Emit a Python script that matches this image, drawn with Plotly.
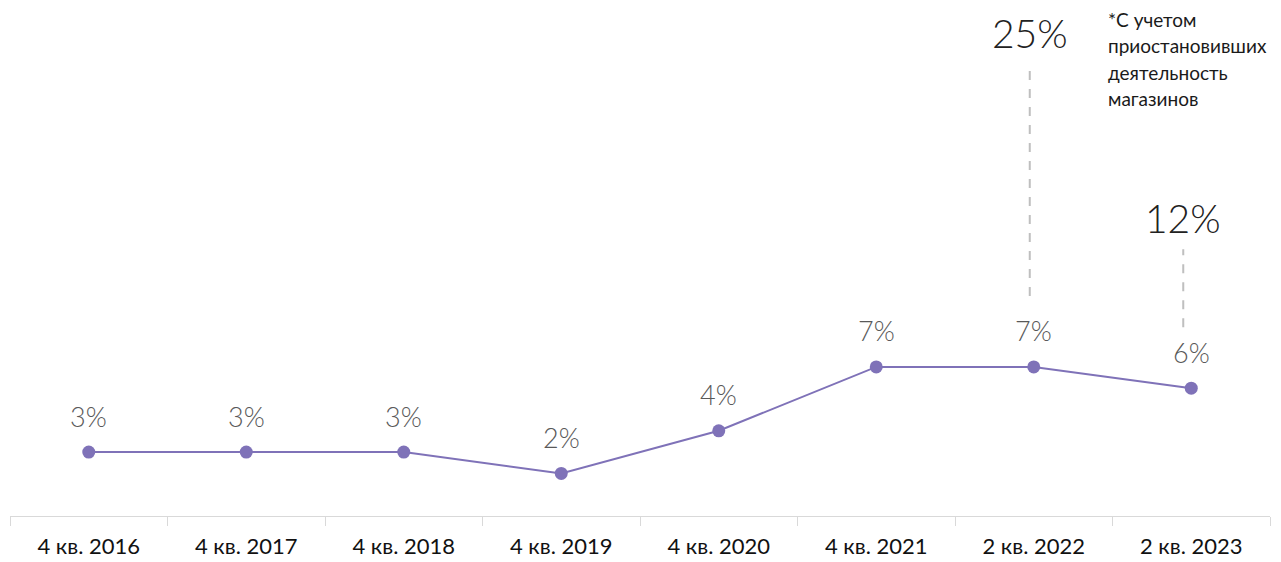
import plotly.graph_objects as go

categories = ["4 кв. 2016", "4 кв. 2017", "4 кв. 2018", "4 кв. 2019",
              "4 кв. 2020", "4 кв. 2021", "2 кв. 2022", "2 кв. 2023"]
values = [3, 3, 3, 2, 4, 7, 7, 6]
labels = ["3%", "3%", "3%", "2%", "4%", "7%", "7%", "6%"]

# values including stores that suspended operations
extra_categories = ["2 кв. 2022", "2 кв. 2023"]
extra_values = [25, 12]
extra_labels = ["25%", "12%"]

note_lines = ["*С учетом", "приостановивших", "деятельность", "магазинов"]

LINE_COLOR = "#7f72b8"
FONT = "Lato"
OFF = 8  # page body margin
W, H = 1281 - OFF, 562 - OFF
ML, MR, MT, MB = 10 - OFF, 11, 0, 46
PLOT_H = H - MT - MB
UNIT = 21.3  # px per unit
YMAX = PLOT_H / UNIT
CAT_W = (W - ML - MR) / len(categories)

fig = go.Figure()
fig.add_trace(go.Scatter(
    x=categories, y=values, mode="lines+markers",
    line=dict(color=LINE_COLOR, width=2),
    marker=dict(color=LINE_COLOR, size=13),
    hoverinfo="skip", showlegend=False,
))

annotations = []
for c, v, t in zip(categories, values, labels):
    annotations.append(dict(
        x=c, y=v, xref="x", yref="y", text=t, showarrow=False,
        yshift=36, font=dict(family=FONT, size=27, color="#595959", weight=300),
    ))

shapes = []
idx = {c: i for i, c in enumerate(categories)}
extra_cfg = [
    dict(dx=-4, label_shift=334, line_lo=71, line_hi=301),
    dict(dx=-8, label_shift=170, line_lo=61, line_hi=139),
]
for c, v, t, cfg in zip(extra_categories, extra_values, extra_labels, extra_cfg):
    base = values[idx[c]]
    xpos = idx[c] + cfg["dx"] / CAT_W
    annotations.append(dict(
        x=xpos, y=base, xref="x", yref="y", text=t, showarrow=False,
        yshift=cfg["label_shift"],
        font=dict(family=FONT, size=39, color="#222222", weight=300),
    ))
    shapes.append(dict(
        type="line", xref="x", yref="y", x0=xpos, x1=xpos,
        y0=base + cfg["line_lo"] / UNIT, y1=base + cfg["line_hi"] / UNIT,
        line=dict(color="#bfbfbf", width=2, dash="dash"),
    ))

for i, ln in enumerate(note_lines):
    px_x, px_y = 1106 - OFF, 20 + 26 * i - OFF
    annotations.append(dict(
        x=(px_x - ML) / (W - ML - MR), y=(H - MB - px_y) / PLOT_H,
        xref="paper", yref="paper", text=ln,
        showarrow=False, xanchor="left", yanchor="middle",
        font=dict(family=FONT, size=19, color="#1a1a1a"),
    ))

fig.update_layout(
    width=W, height=H,
    margin=dict(l=ML, r=MR, t=MT, b=MB, pad=0),
    paper_bgcolor="white", plot_bgcolor="white",
    annotations=annotations, shapes=shapes,
    xaxis=dict(
        type="category", range=[-0.5, 7.5], tickson="boundaries",
        ticks="outside", ticklen=9, tickcolor="#d9d9d9", tickwidth=1,
        showline=True, linecolor="#d9d9d9", linewidth=1, showgrid=False,
        tickfont=dict(family=FONT, size=22, color="#111111"),
        ticklabelstandoff=11, fixedrange=True, automargin=False,
    ),
    yaxis=dict(range=[0, YMAX], visible=False, fixedrange=True),
)

fig.write_html("out.html")
